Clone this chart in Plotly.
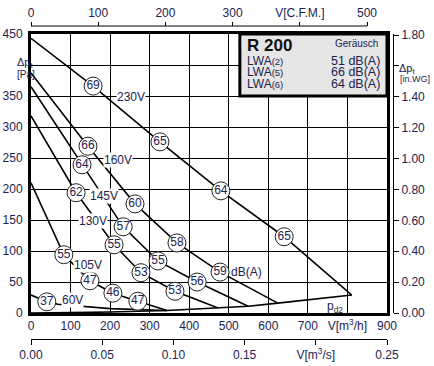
import plotly.graph_objects as go

# ---------------- data ----------------
# flow in m3/h, total pressure in Pa, noise labels in dB(A)
q_230 = [0, 157, 326, 480, 640, 811]
p_230 = [443, 366, 276, 197, 123, 29]
db_230 = ["", "69", "65", "64", "65", ""]

q_160 = [0, 144, 263, 369, 478, 624]
p_160 = [387, 269, 176, 113, 66, 16]
db_160 = ["", "66", "60", "58", "59", ""]

q_145 = [0, 129, 233, 321, 420, 549]
p_145 = [365, 239, 139, 84, 50, 11]
db_145 = ["", "64", "57", "55", "56", ""]

q_130 = [0, 114, 210, 278, 364, 473]
p_130 = [318, 194, 110, 65, 35, 8]
db_130 = ["", "62", "55", "53", "53", ""]

q_105 = [0, 83, 149, 207, 270, 344]
p_105 = [210, 94, 52, 32, 19, 4]
db_105 = ["", "55", "47", "46", "47", ""]

q_60 = [0, 40, 68, 200, 344]
p_60 = [29, 18, 14, 7, 4]
db_60 = ["", "37", "", "", ""]

q_pd2 = [0, 200, 344, 473, 549, 624, 811]
p_pd2 = [0, 1.5, 4, 8, 11, 16, 29]

curves = [
    (q_230, p_230, db_230), (q_160, p_160, db_160), (q_145, p_145, db_145),
    (q_130, p_130, db_130), (q_105, p_105, db_105), (q_60, p_60, db_60),
]

volt_labels = ["230V", "160V", "145V", "130V", "105V", "60V"]
volt_q = [253, 220, 185, 157, 144, 106]
volt_p = [348, 247, 188, 148, 77, 21]

x_ticks = [0, 100, 200, 300, 400, 500, 600, 700, 800, 900]
x_ticktext = ["0", "100", "200", "300", "400", "500", "600", "700", "V[m<sup>3</sup>/h]", "900"]
y_ticks = [0, 50, 100, 150, 200, 250, 300, 350, 400, 450]
y_ticktext = ["0", "50", "100", "150", "200", "250", "300", "350", "", "450"]
cfm_ticks = [0, 100, 200, 300, 400, 500]
cfm_ticktext = ["0", "100", "200", "300", "V[C.F.M.]", "500"]
ms_ticks = [0.0, 0.05, 0.10, 0.15, 0.20, 0.25]
ms_ticktext = ["0.00", "0.05", "0.10", "0.15", "V[m<sup>3</sup>/s]", "0.25"]
wg_ticks = [0.0, 0.2, 0.4, 0.6, 0.8, 1.0, 1.2, 1.4, 1.6, 1.8]
wg_ticktext = ["0.00", "0.20", "0.40", "0.60", "0.80", "1.00", "1.20", "1.40", " ", "1.80"]

legend_names = ["LWA(2)", "LWA(5)", "LWA(6)"]
legend_values = ["51 dB(A)", "66 dB(A)", "64 dB(A)"]

M3H_PER_CFM = 1.699
PA_PER_INWG = 249.09

# ---------------- figure ----------------
FONT = "Liberation Sans, Arial, sans-serif"
TXT = "#1c2350"

fig = go.Figure()

for q, p, db in curves:
    fig.add_trace(go.Scatter(x=q, y=p, mode="lines",
                             line=dict(color="black", width=1.6),
                             hoverinfo="skip"))
fig.add_trace(go.Scatter(x=q_pd2, y=p_pd2, mode="lines",
                         line=dict(color="black", width=1.6), hoverinfo="skip"))

for q, p, db in curves:
    mq = [a for a, t in zip(q, db) if t]
    mp = [b for b, t in zip(p, db) if t]
    mt = [t for t in db if t]
    fig.add_trace(go.Scatter(x=mq, y=mp, mode="markers+text", text=mt,
                             textposition="middle center",
                             textfont=dict(size=12, color=TXT, family=FONT),
                             marker=dict(size=18, color="white",
                                         line=dict(color="#222", width=1)),
                             hoverinfo="skip"))

# invisible traces so the secondary (overlaying) axes are drawn
fig.add_trace(go.Scatter(x=[0], y=[0], xaxis="x2", yaxis="y", mode="markers",
                         marker=dict(opacity=0), hoverinfo="skip"))
fig.add_trace(go.Scatter(x=[0], y=[0], xaxis="x3", yaxis="y", mode="markers",
                         marker=dict(opacity=0), hoverinfo="skip"))
fig.add_trace(go.Scatter(x=[0], y=[0], xaxis="x", yaxis="y2", mode="markers",
                         marker=dict(opacity=0), hoverinfo="skip"))

XD = [0, 0.98343]
YD = [0.08307, 0.97444]

fig.update_layout(
    width=434, height=366,
    margin=dict(l=31, r=41, t=26, b=27, autoexpand=False),
    paper_bgcolor="white", plot_bgcolor="white",
    showlegend=False,
    font=dict(family=FONT, size=12, color=TXT),
    xaxis=dict(domain=XD, range=[0, 900], anchor="y", tickmode="array",
               tickvals=x_ticks, ticktext=x_ticktext,
               showgrid=True, gridcolor="black", gridwidth=1,
               showline=True, linecolor="black", linewidth=3, mirror=True,
               ticks="", zeroline=False, fixedrange=True, automargin=False,
               tickfont=dict(size=12, color=TXT)),
    yaxis=dict(domain=YD, range=[0, 450], anchor="x", tickmode="array",
               tickvals=y_ticks, ticktext=y_ticktext,
               showgrid=True, gridcolor="black", gridwidth=1,
               showline=True, linecolor="black", linewidth=3, mirror=True,
               ticks="outside", ticklen=3, tickcolor="rgba(0,0,0,0)",
               zeroline=False, fixedrange=True, automargin=False,
               tickfont=dict(size=12, color=TXT)),
    xaxis2=dict(range=[0, 900 / M3H_PER_CFM], overlaying="x", anchor="free",
                position=1, side="top", tickmode="array", tickvals=cfm_ticks,
                ticktext=cfm_ticktext, showgrid=False, zeroline=False,
                showline=False, ticks="outside", ticklen=4,
                tickcolor="black", fixedrange=True, automargin=False,
                tickfont=dict(size=12, color=TXT)),
    xaxis3=dict(range=[0, 0.25], overlaying="x", anchor="free", position=0,
                side="bottom", tickmode="array", tickvals=ms_ticks,
                ticktext=ms_ticktext,
                showgrid=False, zeroline=False, showline=True,
                linecolor="black", linewidth=1, ticks="outside", ticklen=5,
                tickcolor="black", fixedrange=True, automargin=False,
                tickfont=dict(size=12, color=TXT)),
    yaxis2=dict(range=[0, 450 / PA_PER_INWG], overlaying="y", anchor="free",
                position=1, side="right", tickmode="array", tickvals=wg_ticks,
                ticktext=wg_ticktext, showgrid=False, zeroline=False,
                showline=True, linecolor="black", linewidth=1,
                ticks="outside", ticklen=5, tickcolor="black",
                fixedrange=True, automargin=False,
                tickfont=dict(size=12, color=TXT)),
)

# top CFM axis line (only from 0 to 500 CFM)
fig.add_shape(type="line", xref="x2", yref="paper", x0=0, x1=500, y0=1, y1=1,
              line=dict(color="black", width=1))

# legend box
fig.add_shape(type="rect", xref="x", yref="y", x0=528, x1=900, y0=350, y1=450,
              fillcolor="#e6e6e6", line=dict(color="black", width=3),
              layer="above")

fig.add_annotation(x=541, y=432, xref="x", yref="y", text="<b>R 200</b>",
                   showarrow=False, xanchor="left",
                   font=dict(size=17, color="#111"))
fig.add_annotation(x=882, y=435, xref="x", yref="y", text="Geräusch",
                   showarrow=False, xanchor="right",
                   font=dict(size=10, color=TXT))
legend_y = [407, 388, 369]
for name, val, yy in zip(legend_names, legend_values, legend_y):
    base, sub = name[:3], name[3:]
    fig.add_annotation(x=541, y=yy, xref="x", yref="y",
                       text=base + "<span style='font-size:9.5px'>" + sub + "</span>",
                       showarrow=False, xanchor="left",
                       font=dict(size=12, color=TXT))
    fig.add_annotation(x=887, y=yy, xref="x", yref="y", text=val,
                       showarrow=False, xanchor="right",
                       font=dict(size=12.5, color=TXT))

# voltage labels
for t, q, p in zip(volt_labels, volt_q, volt_p):
    fig.add_annotation(x=q, y=p, xref="x", yref="y", text=t, showarrow=False,
                       bgcolor="white", borderpad=0,
                       font=dict(size=12, color=TXT))

fig.add_annotation(x=546, y=66, xref="x", yref="y", text="dB(A)",
                   showarrow=False, font=dict(size=12, color=TXT))
fig.add_annotation(x=768, y=10, xref="x", yref="y",
                   text="p<sub>d2</sub>", showarrow=False,
                   font=dict(size=12, color=TXT))

# axis titles
fig.add_annotation(x=-0.044, y=0.912, xref="paper", yref="paper",
                   text="Δp<sub>t</sub>", showarrow=False,
                   font=dict(size=11, color=TXT))
fig.add_annotation(x=-0.044, y=0.870, xref="paper", yref="paper",
                   text="[Pa]", showarrow=False,
                   font=dict(size=10, color=TXT))
fig.add_annotation(x=1.066, y=0.890, xref="paper", yref="paper",
                   text="Δp<sub>t</sub>", showarrow=False,
                   font=dict(size=11, color=TXT))
fig.add_annotation(x=1.108, y=0.852, xref="paper", yref="paper",
                   text="[in.WG]", showarrow=False, xanchor="right",
                   font=dict(size=9, color=TXT))

fig.write_html("out.html",
               config={"displayModeBar": False},
               post_script="document.body.style.margin='0';"
                           "document.body.style.overflow='hidden';")
